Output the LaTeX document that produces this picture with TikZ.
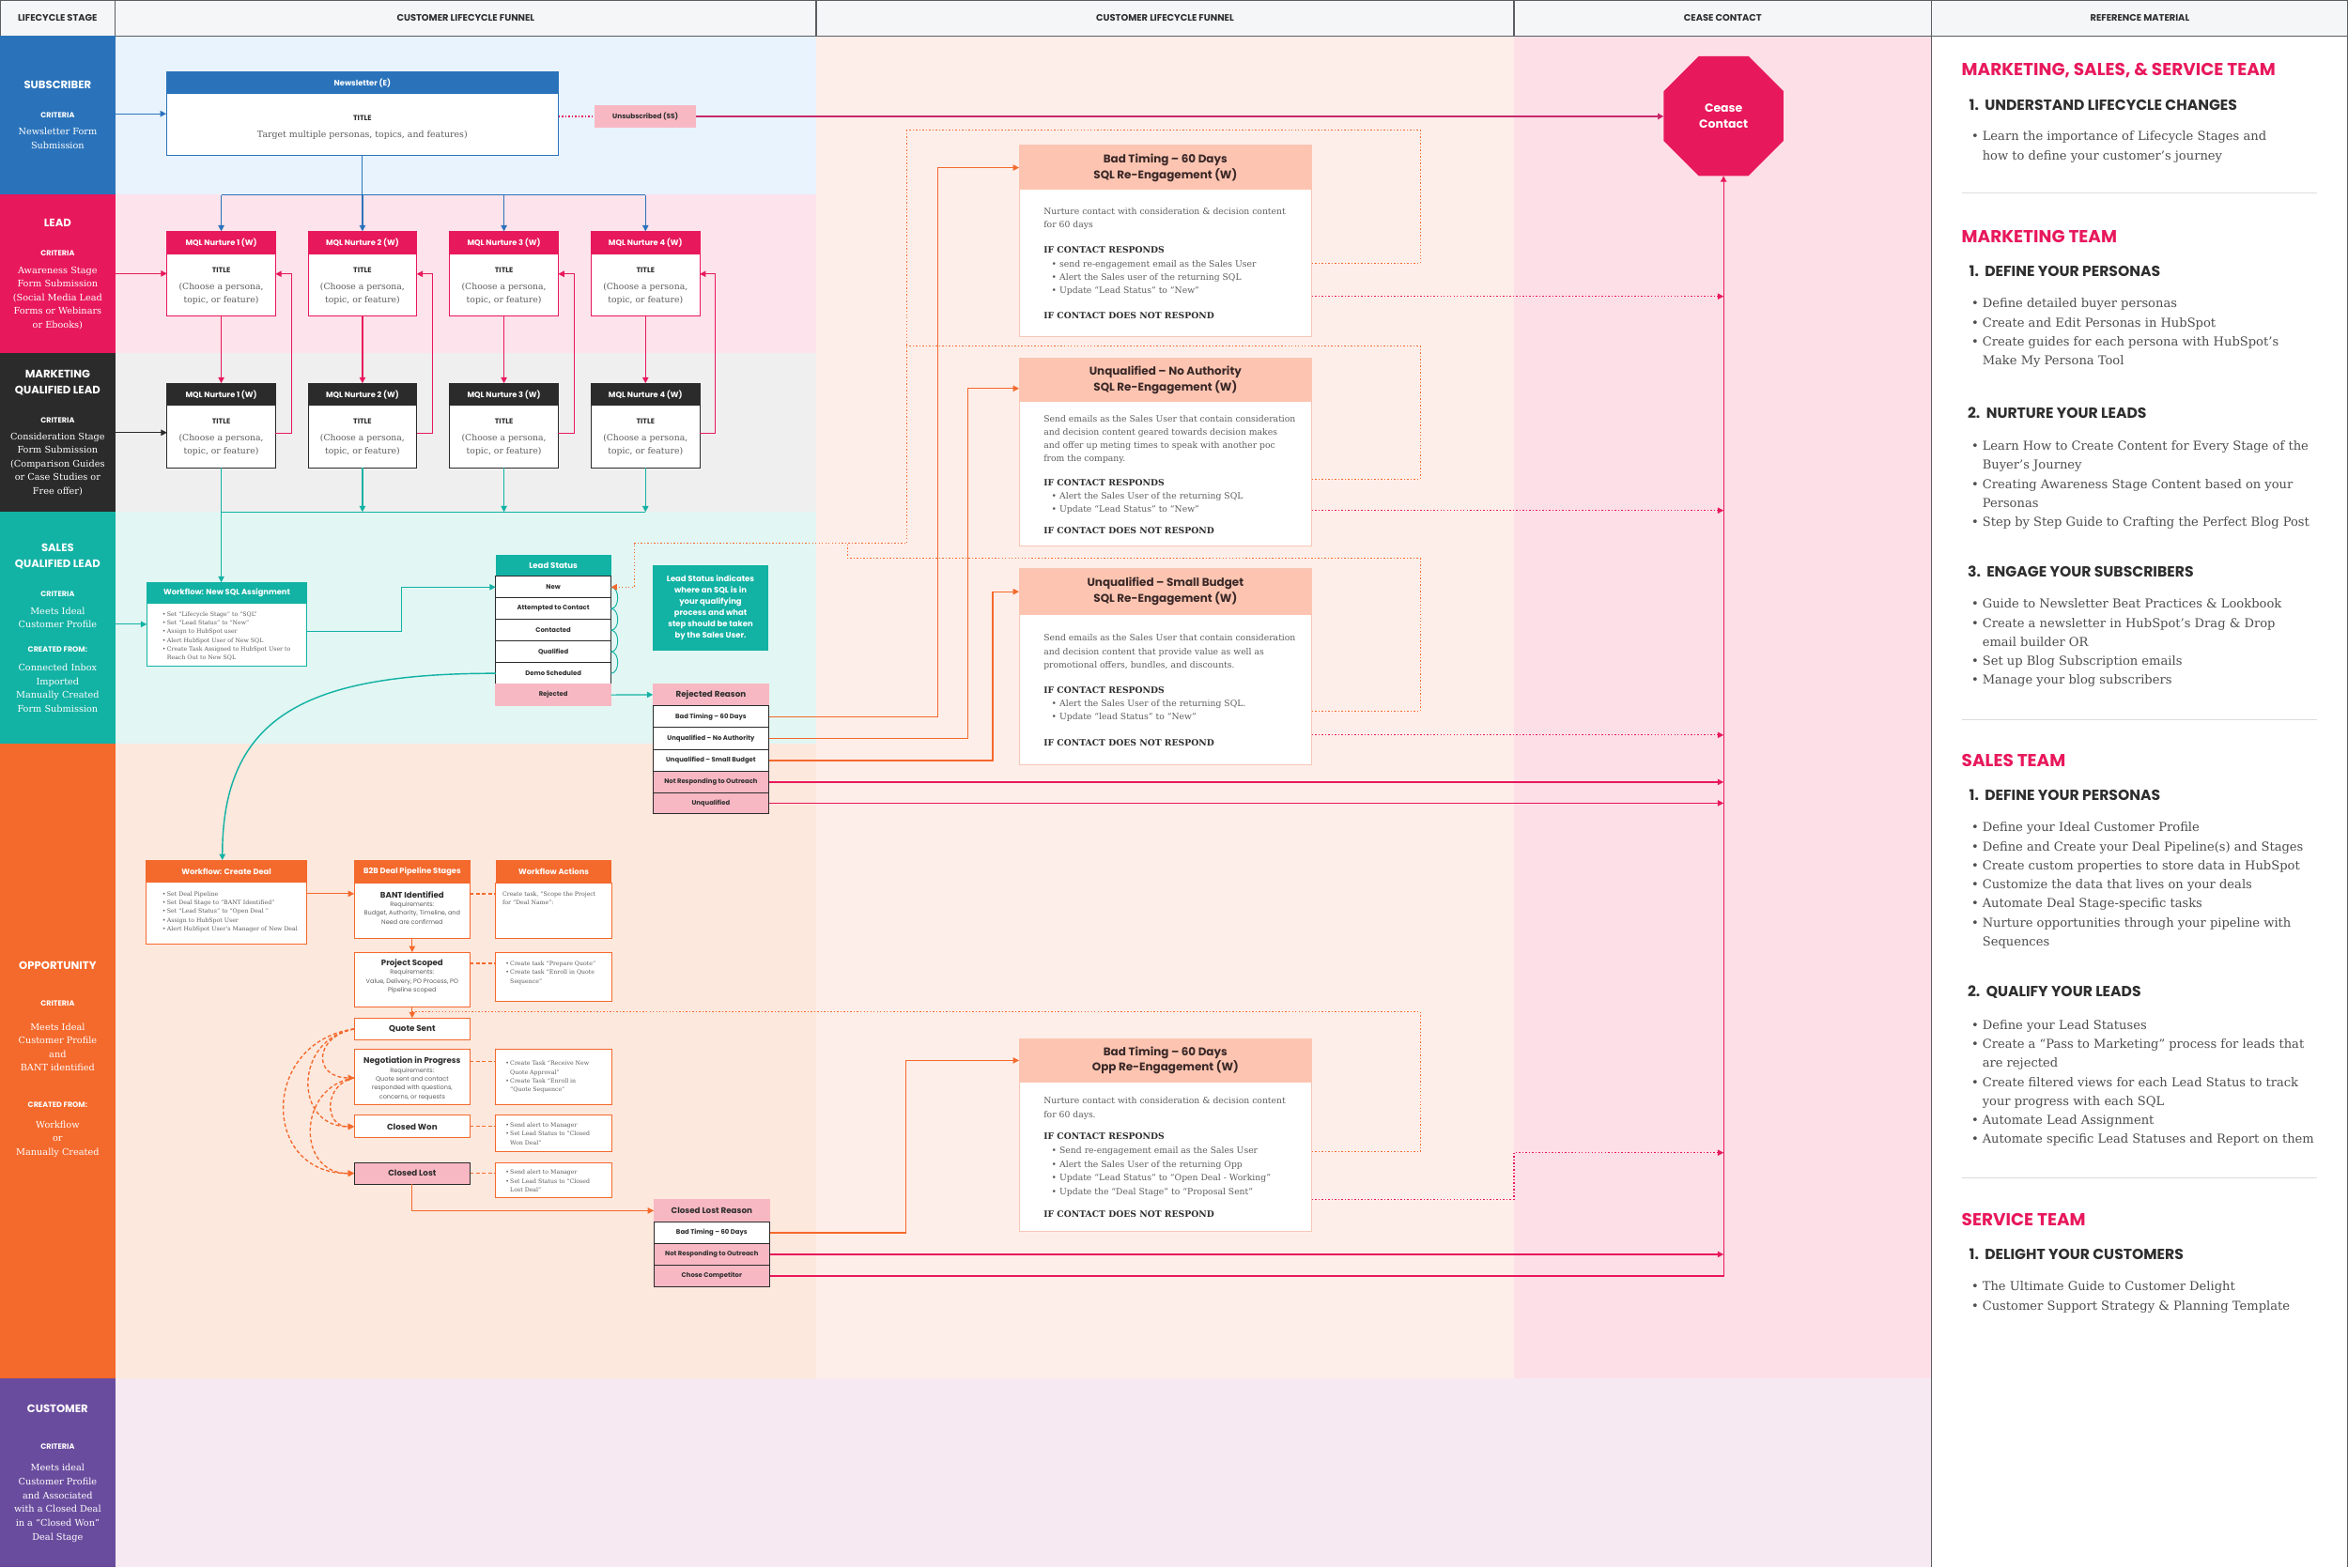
\documentclass[tikz,border=0pt]{standalone}
\usepackage{fontspec}
\setmainfont{DejaVu Serif}
\newfontfamily\popf{Poppins}
\usetikzlibrary{arrows.meta,calc}
\newcommand\setfs[2]{\fontsize{#1}{#2}\selectfont}
\newcommand\myhd[1]{{\color{ctext}\bfseries #1}}
\newcommand\myrbl{\hspace*{0.91em}\makebox[0.91em][l]{•}}
\newcommand\mywbl{\makebox[0.8em][l]{•}}
\newcommand\mywbc{\hspace*{0.8em}}
\newcommand\myrfb{\makebox[0.9em][l]{•}}
\newcommand\myrfc{\hspace*{0.9em}}
\definecolor{cblue}{HTML}{2A73BB}
\definecolor{cpink}{HTML}{E8185C}
\definecolor{cdark}{HTML}{2B2B2B}
\definecolor{cteal}{HTML}{12B2A4}
\definecolor{corange}{HTML}{F4692C}
\definecolor{cpurple}{HTML}{6A4C9E}
\definecolor{csalmon}{HTML}{FDC5B1}
\definecolor{csalb}{HTML}{F6C6B6}
\definecolor{crej}{HTML}{F8B8C3}
\definecolor{bgblue}{HTML}{E8F3FD}
\definecolor{bgpink}{HTML}{FDE3EB}
\definecolor{bggray}{HTML}{EFEFEF}
\definecolor{bgteal}{HTML}{E2F6F3}
\definecolor{bgpeach}{HTML}{FDE8DD}
\definecolor{bgcthree}{HTML}{FEEEE9}
\definecolor{bgcfour}{HTML}{FDDFE7}
\definecolor{bgcus}{HTML}{F7E9F2}
\definecolor{chead}{HTML}{F4F6F8}
\definecolor{cgrid}{HTML}{5A5E63}
\definecolor{ctext}{HTML}{2E2E2E}
\definecolor{cgtext}{HTML}{5C5C5C}
\definecolor{cmag}{HTML}{C8286A}
\definecolor{cdiv}{HTML}{DDDDDD}
\definecolor{chdtxt}{HTML}{3A2828}
\begin{document}
\begin{tikzpicture}[x=1pt,y=-1pt,
  every node/.style={inner sep=0pt,outer sep=0pt},
  stg/.style={anchor=north west, minimum width=77},
  sttl/.style={text=white, font=\popf\bfseries\setfs{7.3}{11}, align=center},
  scrt/.style={text=white, font=\popf\bfseries\setfs{5}{6}},
  sbdy/.style={text=white, font=\setfs{6.1}{9.1}, align=center},
  htxt/.style={text=ctext, font=\popf\bfseries\setfs{6.2}{7}},
  rbox/.style={anchor=north west, draw, fill=white, line width=0.6},
  hdr/.style={anchor=north west, text=white, font=\popf\bfseries\setfs{5.2}{6}},
  hdrb/.style={anchor=north west, fill=csalmon, text=chdtxt, font=\popf\bfseries\setfs{7.5}{10.5}, align=center},
  ttl/.style={text=ctext, font=\popf\bfseries\setfs{4.9}{5.5}},
  bser/.style={text=cgtext, font=\setfs{5.8}{8.8}},
  rowb/.style={anchor=north west, draw=cdark, fill=white, line width=0.6, minimum width=77.5, text=ctext, font=\popf\bfseries\setfs{4.3}{5}},
  rtxt/.style={anchor=west, align=left, text=cgtext, font=\setfs{5.8}{9}},
  wtxt/.style={anchor=west, align=left, text=cgtext, font=\setfs{3.9}{5.85}},
  stitle/.style={text=ctext, font=\popf\bfseries\setfs{5.4}{6}},
  sreq/.style={text=cgtext, font=\popf\setfs{4.1}{5.85}, align=center},
  refteam/.style={anchor=west, text=cpink, font=\popf\bfseries\setfs{11.6}{13}},
  refsec/.style={anchor=west, text=ctext, font=\popf\bfseries\setfs{9.8}{11}},
  reflist/.style={anchor=west, align=left, text=ctext!85, font=\setfs{8.2}{12.7}},
  ar/.style={-{Triangle[length=4pt,width=4pt]}, line width=0.75},
  dotl/.style={line width=0.75, dash pattern=on 0.9pt off 1.3pt},
  dashl/.style={line width=0.85, dash pattern=on 2.4pt off 1.6pt}
]
\useasboundingbox (0,0) rectangle (1568,1047);
% ---------- backgrounds
\fill[chead] (0,0) rectangle (1568,24);
\fill[bgblue] (77,24) rectangle (545,130);
\fill[bgpink] (77,130) rectangle (545,236);
\fill[bggray] (77,236) rectangle (545,342);
\fill[bgteal] (77,342) rectangle (545,497);
\fill[bgpeach] (77,497) rectangle (545,921);
\fill[bgcthree] (545,24) rectangle (1011,921);
\fill[bgcfour] (1011,24) rectangle (1290,921);
\fill[bgcus] (77,921) rectangle (1290,1047);
\fill[white] (1290,24) rectangle (1568,1047);
% ---------- header grid
\draw[cgrid, line width=0.8] (0,0.4) -- (1568,0.4);
\draw[cgrid, line width=0.8] (0,24) -- (1568,24);
\foreach \xx in {0.4,77,545,1011,1290} \draw[cgrid, line width=0.8] (\xx,0) -- (\xx,24);
\draw[cgrid, line width=0.8] (1290,24) -- (1290,1047);
\draw[cgrid, line width=0.8] (1567.6,0) -- (1567.6,1047);
\node[htxt] (h1) at (38.5,12) {LIFECYCLE STAGE};
\node[htxt] (h2) at (311,12) {CUSTOMER LIFECYCLE FUNNEL};
\node[htxt] (h3) at (778,12) {CUSTOMER LIFECYCLE FUNNEL};
\node[htxt] (h4) at (1150.5,12) {CEASE CONTACT};
\node[htxt] (h5) at (1429,12) {REFERENCE MATERIAL};
% ---------- lifecycle stage column
\node[stg, fill=cblue, minimum height=106] (stSub) at (0,24) {};
\node[stg, fill=cpink, minimum height=106] (stLead) at (0,130) {};
\node[stg, fill=cdark, minimum height=106] (stMql) at (0,236) {};
\node[stg, fill=cteal, minimum height=155] (stSql) at (0,342) {};
\node[stg, fill=corange, minimum height=424] (stOpp) at (0,497) {};
\node[stg, fill=cpurple, minimum height=126] (stCus) at (0,921) {};
\node[sttl] (s1a) at (38.5,57) {SUBSCRIBER};
\node[scrt] (s1b) at (38.5,77) {CRITERIA};
\node[sbdy] (s1c) at (38.5,92.5) {Newsletter Form\\Submission};
\node[sttl] (s2a) at (38.5,149) {LEAD};
\node[scrt] (s2b) at (38.5,169) {CRITERIA};
\node[sbdy] (s2c) at (38.5,199) {Awareness Stage\\Form Submission\\(Social Media Lead\\Forms or Webinars\\or Ebooks)};
\node[sttl] (s3a) at (38.5,255.5) {MARKETING\\QUALIFIED LEAD};
\node[scrt] (s3b) at (38.5,281) {CRITERIA};
\node[sbdy] (s3c) at (38.5,310) {Consideration Stage\\Form Submission\\(Comparison Guides\\or Case Studies or\\Free offer)};
\node[sttl] (s4a) at (38.5,371.5) {SALES\\QUALIFIED LEAD};
\node[scrt] (s4b) at (38.5,397) {CRITERIA};
\node[sbdy] (s4c) at (38.5,412.5) {Meets Ideal\\Customer Profile};
\node[scrt] (s4d) at (38.5,434) {CREATED FROM:};
\node[sbdy] (s4e) at (38.5,459.5) {Connected Inbox\\Imported\\Manually Created\\Form Submission};
\node[sttl] (s5a) at (38.5,645) {OPPORTUNITY};
\node[scrt] (s5b) at (38.5,670) {CRITERIA};
\node[sbdy] (s5c) at (38.5,699.5) {Meets Ideal\\Customer Profile\\and\\BANT identified};
\node[scrt] (s5d) at (38.5,738) {CREATED FROM:};
\node[sbdy] (s5e) at (38.5,761) {Workflow\\or\\Manually Created};
\node[sttl] (s6a) at (38.5,941) {CUSTOMER};
\node[scrt] (s6b) at (38.5,966) {CRITERIA};
\node[sbdy, font=\setfs{6.1}{9.2}] (s6c) at (38.5,1004) {Meets ideal\\Customer Profile\\and Associated\\with a Closed Deal\\in a “Closed Won”\\Deal Stage};
% ---------- newsletter
\node[rbox, draw=cblue, minimum width=262, minimum height=56] (nl) at (111,48) {};
\node[hdr, fill=cblue, minimum width=262, minimum height=15] (nlh) at (111,48) {Newsletter (E)};
\node[ttl] (nlt) at (242,79) {TITLE};
\node[bser, font=\setfs{5.9}{8.8}] (nlb) at (242,90) {Target multiple personas, topics, and features)};
\node[anchor=north west, fill=crej, minimum width=68, minimum height=14.5, text=ctext, font=\popf\bfseries\setfs{4.6}{5.5}] (uns) at (397,70.5) {Unsubscribed (SS)};
% ---------- cease contact
\fill[cpink] (1167.57,37.5) -- (1191,60.93) -- (1191,94.07) -- (1167.57,117.5) -- (1134.43,117.5) -- (1111,94.07) -- (1111,60.93) -- (1134.43,37.5) -- cycle;
\node[minimum width=80, minimum height=80, text=white, font=\popf\bfseries\setfs{7.8}{11}, align=center] (cease) at (1151,77.5) {Cease\\Contact};
% ---------- MQL nurture boxes
\foreach \i/\x in {1/111.5,2/205.8,3/300.3,4/394.8}{
  \pgfmathsetmacro\cx{\x+36.25}
  \node[rbox, draw=cpink, minimum width=72.5, minimum height=56.5] (m\i) at (\x,154.5) {};
  \node[hdr, fill=cpink, minimum width=72.5, minimum height=15.2] (mh\i) at (\x,154.5) {MQL Nurture \i\ (W)};
  \node[ttl] (mt\i) at (\cx,180.2) {TITLE};
  \node[bser, align=center] (mb\i) at (\cx,196.4) {(Choose a persona,\\topic, or feature)};
  \node[rbox, draw=cdark, minimum width=72.5, minimum height=56.5] (d\i) at (\x,256) {};
  \node[hdr, fill=cdark, minimum width=72.5, minimum height=15] (dh\i) at (\x,256) {MQL Nurture \i\ (W)};
  \node[ttl] (dt\i) at (\cx,281.7) {TITLE};
  \node[bser, align=center] (db\i) at (\cx,297.5) {(Choose a persona,\\topic, or feature)};
}
% ---------- subscriber / lead / mql connectors
\draw[ar, cblue] (stSub.east |- nl.west) -- (nl.west);
\draw[line width=0.75, cblue] (nl.south) -- (nl.south |- 0,130.3);
\draw[line width=0.75, cblue] (m1.north |- 0,130.3) -- (m4.north |- 0,130.3);
\foreach \i in {1,...,4}{
  \draw[ar, cblue] (m\i.north |- 0,130.3) -- (m\i.north);
  \draw[ar, cpink] (m\i.south) -- (d\i.north);
  \draw[ar, cpink] (d\i.east |- 0,289.5) -- ++(10.5,0) |- (m\i.east |- 0,183);
}
\draw[ar, cpink] (stLead.east |- m1.west) -- (m1.west);
\draw[ar, cdark] (stMql.east |- 0,289) -- (d1.west |- 0,289);
\draw[dotl, cpink] (nl.east |- uns.west) -- (uns.west);
\draw[ar, cmag, line width=1] (uns.east) -- (cease.west |- uns.east);
% ---------- SQL
\node[rbox, draw=cteal, minimum width=107, minimum height=56] (wf) at (98,389) {};
\node[hdr, fill=cteal, minimum width=107, minimum height=14.5] (wfh) at (98,389) {Workflow: New SQL Assignment};
\node[wtxt] (wft) at (108.5,425) {\mywbl Set “Lifecycle Stage” to “SQL”\\\mywbl Set “Lead Status” to “New”\\\mywbl Assign to HubSpot user\\\mywbl Alert HubSpot User of New SQL\\\mywbl Create Task Assigned to HubSpot User to\\\mywbc Reach Out to New SQL};
\draw[line width=0.75, cteal] (d1.south |- 0,342) -- (d4.south |- 0,342);
\draw[ar, cteal] (d1.south) -- (d1.south |- wf.north);
\foreach \i in {2,3,4}{\draw[ar, cteal] (d\i.south) -- (d\i.south |- 0,342);}
\draw[ar, cteal] (stSql.east |- wf.west) -- (wf.west);
% lead status
\node[anchor=north west, fill=cteal, minimum width=77, minimum height=14.4, text=white, font=\popf\bfseries\setfs{5.4}{6}] (lsh) at (331,370.6) {Lead Status};
\foreach \i/\t in {1/New,2/Attempted to Contact,3/Contacted,4/Qualified,5/Demo Scheduled}{
  \pgfmathsetmacro\yy{385+14.4*(\i-1)}
  \node[rowb, minimum width=77, minimum height=14.4] (ls\i) at (331,\yy) {\t};
}
\node[rowb, draw=crej, fill=crej, minimum width=77, minimum height=14.4] (ls6) at (331,457) {Rejected};
\foreach \i/\j in {1/2,2/3,3/4,4/5}{
  \draw[cteal, line width=0.6] (ls\i.east) .. controls ($(ls\i.east)+(6,0)$) and ($(ls\j.east)+(6,0)$) .. (ls\j.east);
}
\draw[ar, cteal] (wf.east |- 0,422) -- (268,422) |- (ls1.west);
\node[anchor=north west, fill=cteal, minimum width=77, minimum height=57, text=white, font=\popf\bfseries\setfs{5.3}{7.45}, align=center] (lsi) at (436,377.4) {Lead Status indicates\\where an SQL is in\\your qualifying\\process and what\\step should be taken\\by the Sales User.};
% rejected reason
\node[anchor=north west, fill=crej, minimum width=77.5, minimum height=14.9, text=ctext, font=\popf\bfseries\setfs{5.5}{6.5}] (rrh) at (436,456.6) {Rejected Reason};
\node[rowb, minimum height=14.5] (rr1) at (436,471.5) {Bad Timing – 60 Days};
\node[rowb, minimum height=14.6] (rr2) at (436,486) {Unqualified – No Authority};
\node[rowb, minimum height=14.8] (rr3) at (436,500.6) {Unqualified – Small Budget};
\node[rowb, fill=crej, minimum height=14] (rr4) at (436,515.4) {Not Responding to Outreach};
\node[rowb, fill=crej, minimum height=14.2] (rr5) at (436,529.4) {Unqualified};
\draw[ar, cteal] (ls6.east) -- (rrh.west);
% ---------- re-engagement boxes
\node[rbox, draw=csalb, minimum width=195.5, minimum height=128] (ra) at (680.5,97) {};
\node[hdrb, minimum width=195.5, minimum height=30] (rah) at (680.5,97) {Bad Timing – 60 Days\\SQL Re-Engagement (W)};
\node[rtxt] (rat) at (697,176) {Nurture contact with consideration \& decision content\\for 60 days\\[8pt]\myhd{IF CONTACT RESPONDS}\\\myrbl send re-engagement email as the Sales User\\\myrbl Alert the Sales user of the returning SQL\\\myrbl Update “Lead Status” to “New”\\[8pt]\myhd{IF CONTACT DOES NOT RESPOND}};
\node[rbox, draw=csalb, minimum width=195.5, minimum height=125.6] (rb) at (680.5,239.4) {};
\node[hdrb, minimum width=195.5, minimum height=29.1] (rbh) at (680.5,239.4) {Unqualified – No Authority\\SQL Re-Engagement (W)};
\node[rtxt, font=\setfs{5.8}{8.8}] (rbt) at (697,317.3) {Send emails as the Sales User that contain consideration\\and decision content geared towards decision makes\\and offer up meting times to speak with another poc\\from the company.\\[7pt]\myhd{IF CONTACT RESPONDS}\\\myrbl Alert the Sales User of the returning SQL\\\myrbl Update “Lead Status” to “New”\\[6pt]\myhd{IF CONTACT DOES NOT RESPOND}};
\node[rbox, draw=csalb, minimum width=195.5, minimum height=131] (rc) at (680.5,380) {};
\node[hdrb, minimum width=195.5, minimum height=30.5] (rch) at (680.5,380) {Unqualified – Small Budget\\SQL Re-Engagement (W)};
\node[rtxt, font=\setfs{5.8}{8.9}] (rct) at (697,461) {Send emails as the Sales User that contain consideration\\and decision content that provide value as well as\\promotional offers, bundles, and discounts.\\[8.2pt]\myhd{IF CONTACT RESPONDS}\\\myrbl Alert the Sales User of the returning SQL.\\\myrbl Update “lead Status” to “New”\\[8.1pt]\myhd{IF CONTACT DOES NOT RESPOND}};
\node[rbox, draw=csalb, minimum width=195.5, minimum height=129] (rd) at (680.5,693.7) {};
\node[hdrb, minimum width=195.5, minimum height=29.3] (rdh) at (680.5,693.7) {Bad Timing – 60 Days\\Opp Re-Engagement (W)};
\node[rtxt, font=\setfs{5.8}{9.2}] (rdt) at (697,773) {Nurture contact with consideration \& decision content\\for 60 days.\\[5.8pt]\myhd{IF CONTACT RESPONDS}\\\myrbl Send re-engagement email as the Sales User\\\myrbl Alert the Sales User of the returning Opp\\\myrbl Update “Lead Status” to “Open Deal - Working”\\\myrbl Update the “Deal Stage” to “Proposal Sent”\\[5.8pt]\myhd{IF CONTACT DOES NOT RESPOND}};
% rejected reason -> re-engagement
\draw[ar, corange] (rr1.east) -| ([xshift=-54.5pt]rah.west) -- (rah.west);
\draw[ar, corange] (rr2.east) -| (646.5,259.5) -- (rb.west |- 0,259.5);
\draw[ar, corange] (rr3.east) -| ([xshift=-17.5pt]rch.west) -- (rch.west);
\draw[ar, cpink] (rr4.east) -- (cease.south |- rr4.east);
\draw[ar, cpink] (rr5.east) -- (cease.south |- rr5.east);
% responds loops (orange dotted)
\draw[ar, corange, dotl] (ra.east |- 0,175.7) -- (948.5,175.7) -- (948.5,87) -- (605.5,87) -- (605.5,363) -- (423.5,363) -- (423.5,392.2) -- (ls1.east);
\draw[corange, dotl] (rb.east |- 0,320) -- (948.5,320) -- (948.5,231.3) -- (605.5,231.3);
\draw[corange, dotl] (rc.east |- 0,475) -- (948.5,475) -- (948.5,373) -- (566,373) -- (566,363);
% does not respond (magenta dotted)
\draw[ar, cpink, dotl] (ra.east |- 0,198) -- (cease.south |- 0,198);
\draw[ar, cpink, dotl] (rb.east |- 0,341) -- (cease.south |- 0,341);
\draw[ar, cpink, dotl] (rc.east |- 0,491) -- (cease.south |- 0,491);
\draw[ar, cpink, dotl] (rd.east |- 0,801) -- (1011,801) -- (1011,770) -- (cease.south |- 0,770);
% ---------- opportunity
\node[rbox, draw=corange, minimum width=106.8, minimum height=56.2] (cd) at (97.8,574.5) {};
\node[hdr, fill=corange, minimum width=106.8, minimum height=15.1] (cdh) at (97.8,574.5) {Workflow: Create Deal};
\node[wtxt] (cdt) at (108.5,609.2) {\mywbl Set Deal Pipeline\\\mywbl Set Deal Stage to “BANT Identified”\\\mywbl Set “Lead Status” to “Open Deal ”\\\mywbl Assign to HubSpot User\\\mywbl Alert HubSpot User’s Manager of New Deal};
\draw[ar, cteal, line width=0.9] (ls5.west) .. controls (205,449.8) and (148.5,478) .. (cd.north -| 148.5,0);
\node[hdr, fill=corange, minimum width=77.5, minimum height=15.1] (b2h) at (236.5,574.5) {B2B Deal Pipeline Stages};
\node[rbox, draw=corange, minimum width=77.5, minimum height=37.4] (bant) at (236.5,589.6) {};
\node[stitle] (bantt) at (275.25,597.5) {BANT Identified};
\node[sreq] (bantr) at (275.25,609.85) {Requirements:\\Budget, Authority, Timeline, and\\Need are confirmed};
\node[rbox, draw=corange, minimum width=77.5, minimum height=36.8] (ps) at (236.5,636) {};
\node[stitle] (pst) at (275.25,643.5) {Project Scoped};
\node[sreq] (psr) at (275.25,655.65) {Requirements:\\Value, Delivery, PO Process, PO\\Pipeline scoped};
\node[rbox, draw=corange, minimum width=77.5, minimum height=14.7, text=ctext, font=\popf\bfseries\setfs{5.5}{6}] (qs) at (236.5,680) {Quote Sent};
\node[rbox, draw=corange, minimum width=77.5, minimum height=37] (neg) at (236.5,701) {};
\node[stitle] (negt) at (275.25,709) {Negotiation in Progress};
\node[sreq] (negr) at (275.25,724.2) {Requirements:\\Quote sent and contact\\responded with questions,\\concerns, or requests};
\node[rbox, draw=corange, minimum width=77.5, minimum height=15, text=ctext, font=\popf\bfseries\setfs{5.5}{6}] (cw) at (236.5,745) {Closed Won};
\node[rbox, draw=cdark, fill=crej, minimum width=77.5, minimum height=14.5, text=ctext, font=\popf\bfseries\setfs{5.5}{6}] (cl) at (236.5,776.5) {Closed Lost};
\node[hdr, fill=corange, minimum width=77.6, minimum height=15.1] (wah) at (331,574.5) {Workflow Actions};
\node[rbox, draw=corange, minimum width=77.6, minimum height=37.4] (wa1) at (331,589.6) {};
\node[wtxt] (wa1t) at (335.6,600) {Create task, “Scope the Project\\for “Deal Name”:};
\node[rbox, draw=corange, minimum width=77.6, minimum height=32.6] (wa2) at (331,636) {};
\node[wtxt] (wa2t) at (337.6,649.8) {\mywbl Create task “Prepare Quote”\\\mywbl Create task “Enroll in Quote\\\mywbc Sequence”};
\node[rbox, draw=corange, minimum width=77.6, minimum height=37] (wa3) at (331,701) {};
\node[wtxt] (wa3t) at (337.6,719.5) {\mywbl Create Task “Receive New\\\mywbc Quote Approval”\\\mywbl Create Task “Enroll in\\\mywbc “Quote Sequence”};
\node[rbox, draw=corange, minimum width=77.6, minimum height=24] (wa4) at (331,745) {};
\node[wtxt] (wa4t) at (337.6,757.4) {\mywbl Send alert to Manager\\\mywbl Set Lead Status to “Closed\\\mywbc Won Deal”};
\node[rbox, draw=corange, minimum width=77.6, minimum height=23.5] (wa5) at (331,776.5) {};
\node[wtxt] (wa5t) at (337.6,789) {\mywbl Send alert to Manager\\\mywbl Set Lead Status to “Closed\\\mywbc Lost Deal”};
\draw[ar, corange] (cd.east |- 0,597) -- (bant.west |- 0,597);
\draw[ar, corange] (bant.south) -- (ps.north);
\draw[ar, corange] (ps.south) -- (qs.north);
\draw[corange, dashl] (bant.east |- 0,597) -- (wa1.west |- 0,597);
\draw[corange, dashl] (ps.east |- 0,643.5) -- (wa2.west |- 0,643.5);
\draw[corange, dashl] (neg.east |- 0,709) -- (wa3.west |- 0,709);
\draw[corange, dashl] (cw.east) -- (wa4.west |- cw.east);
\draw[corange, dashl] (cl.east) -- (wa5.west |- cl.east);
% stage jumps
\coordinate (qsL) at (qs.west);
\coordinate (negL) at (neg.west |- 0,720);
\draw[ar, corange, dashl] (qsL) .. controls (209,693) and (209,720) .. (negL);
\draw[ar, corange, dashl] (qsL) .. controls (196,694) and (196,753) .. (cw.west);
\draw[ar, corange, dashl] (qsL) .. controls (174,696) and (174,784.5) .. (cl.west);
\draw[ar, corange, dashl] (negL) .. controls (216,724) and (216,753) .. (cw.west);
\draw[ar, corange, dashl] (negL) .. controls (198,726) and (198,784.5) .. (cl.west);
% closed lost reason
\node[anchor=north west, fill=crej, minimum width=77.4, minimum height=15.4, text=ctext, font=\popf\bfseries\setfs{5.5}{6.5}] (clh) at (436.6,801) {Closed Lost Reason};
\node[rowb, minimum width=77.4, minimum height=14.1] (cl1) at (436.6,816.4) {Bad Timing – 60 Days};
\node[rowb, fill=crej, minimum width=77.4, minimum height=14.8] (cl2) at (436.6,830.5) {Not Responding to Outreach};
\node[rowb, fill=crej, minimum width=77.4, minimum height=14] (cl3) at (436.6,845.3) {Chose Competitor};
\draw[ar, corange, line width=0.6] (cl.south) |- (clh.west);
\draw[ar, corange] (cl1.east) -| ([xshift=-75.5pt]rdh.west) -- (rdh.west);
\draw[corange, dotl] (rd.east |- 0,769.4) -- (948.5,769.4) -- (948.5,676) -- (ps.south |- 0,676);
\draw[ar, cpink] (cl2.east) -- (cease.south |- cl2.east);
\draw[ar, cpink] (cl3.east) -- (cease.south |- cl3.east) -- (cease.south);
% ---------- reference material
\node[refteam] (rt1) at (1310,47) {MARKETING, SALES, \& SERVICE TEAM};
\node[refsec] (rs1) at (1315,70) {1.\hspace{4pt}UNDERSTAND LIFECYCLE CHANGES};
\node[reflist] (rl1) at (1316.5,98.2) {\myrfb Learn the importance of Lifecycle Stages and\\\myrfc how to define your customer’s journey};
\draw[cdiv, line width=0.6] (1310,129) -- (1547,129);
\node[refteam] (rt2) at (1310,158) {MARKETING TEAM};
\node[refsec] (rs2) at (1315,181) {1.\hspace{4pt}DEFINE YOUR PERSONAS};
\node[reflist] (rl2) at (1316.5,222.5) {\myrfb Define detailed buyer personas\\\myrfb Create and Edit Personas in HubSpot\\\myrfb Create guides for each persona with HubSpot’s\\\myrfc Make My Persona Tool};
\node[refsec] (rs3) at (1314,276) {2.\hspace{4pt}NURTURE YOUR LEADS};
\node[reflist] (rl3) at (1316.5,324) {\myrfb Learn How to Create Content for Every Stage of the\\\myrfc Buyer’s Journey\\\myrfb Creating Awareness Stage Content based on your\\\myrfc Personas\\\myrfb Step by Step Guide to Crafting the Perfect Blog Post};
\node[refsec] (rs4) at (1314,382) {3.\hspace{4pt}ENGAGE YOUR SUBSCRIBERS};
\node[reflist] (rl4) at (1316.5,429.5) {\myrfb Guide to Newsletter Beat Practices \& Lookbook\\\myrfb Create a newsletter in HubSpot’s Drag \& Drop\\\myrfc email builder OR\\\myrfb Set up Blog Subscription emails\\\myrfb Manage your blog subscribers};
\draw[cdiv, line width=0.6] (1310,481) -- (1547,481);
\node[refteam] (rt3) at (1310,508) {SALES TEAM};
\node[refsec] (rs5) at (1315,531) {1.\hspace{4pt}DEFINE YOUR PERSONAS};
\node[reflist] (rl5) at (1316.5,591.5) {\myrfb Define your Ideal Customer Profile\\\myrfb Define and Create your Deal Pipeline(s) and Stages\\\myrfb Create custom properties to store data in HubSpot\\\myrfb Customize the data that lives on your deals\\\myrfb Automate Deal Stage-specific tasks\\\myrfb Nurture opportunities through your pipeline with\\\myrfc Sequences};
\node[refsec] (rs6) at (1314,663) {2.\hspace{4pt}QUALIFY YOUR LEADS};
\node[reflist] (rl6) at (1316.5,723.5) {\myrfb Define your Lead Statuses\\\myrfb Create a “Pass to Marketing” process for leads that\\\myrfc are rejected\\\myrfb Create filtered views for each Lead Status to track\\\myrfc your progress with each SQL\\\myrfb Automate Lead Assignment\\\myrfb Automate specific Lead Statuses and Report on them};
\draw[cdiv, line width=0.6] (1310,787) -- (1547,787);
\node[refteam] (rt4) at (1310,815) {SERVICE TEAM};
\node[refsec] (rs7) at (1315,838) {1.\hspace{4pt}DELIGHT YOUR CUSTOMERS};
\node[reflist] (rl7) at (1316.5,866.5) {\myrfb The Ultimate Guide to Customer Delight\\\myrfb Customer Support Strategy \& Planning Template};
\end{tikzpicture}
\end{document}
